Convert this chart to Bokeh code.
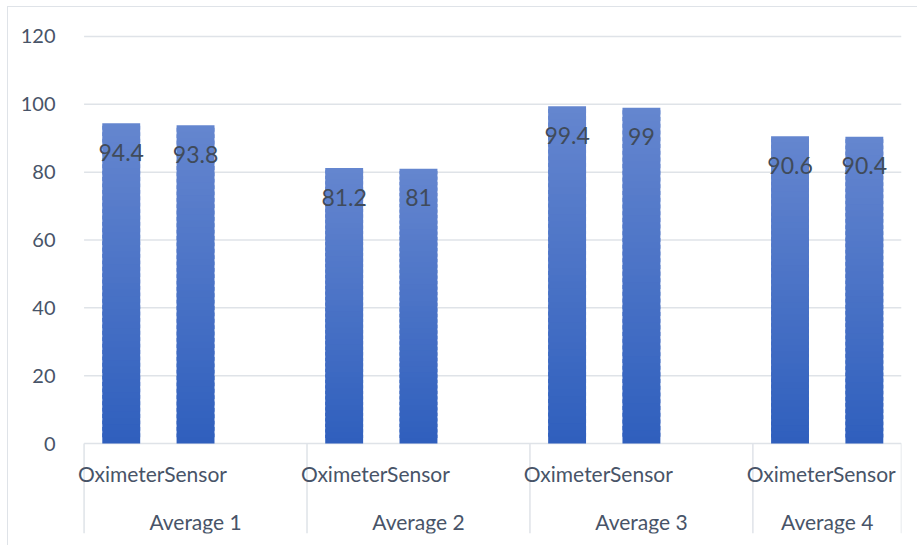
from bokeh.plotting import figure
from bokeh.models import ColumnDataSource, FixedTicker, Range1d
from bokeh.embed import file_html
from bokeh.resources import INLINE
from bokeh.core.properties import value

# ---- data ----
groups = ["Average 1", "Average 2", "Average 3", "Average 4"]
series = ["Oximeter", "Sensor"]
oximeter = [94.4, 81.2, 99.4, 90.6]
sensor = [93.8, 81.0, 99.0, 90.4]
y_ticks = [0, 20, 40, 60, 80, 100, 120]

# ---- layout helpers ----
SLOTS_PER_GROUP = 3          # Oximeter, Sensor, empty slot
n_slots = SLOTS_PER_GROUP * len(groups) - 1
X_MIN = -0.25
Y_MIN, Y_MAX = -26.5, 124.4

TOP_RGB = (101, 134, 207)
BOT_RGB = (47, 95, 189)
N_STRIPS = 50

def mix(t):
    r = [round(BOT_RGB[i] + (TOP_RGB[i] - BOT_RGB[i]) * t) for i in range(3)]
    return "#%02x%02x%02x" % tuple(r)

bar_x, bar_v, bar_lbl = [], [], []
cat_x, cat_t = [], []
grp_x = []
for gi, g in enumerate(groups):
    start = gi * SLOTS_PER_GROUP
    end = min(start + SLOTS_PER_GROUP, n_slots)
    grp_x.append((start + end) / 2)
    for si, (name, vals) in enumerate(zip(series, [oximeter, sensor])):
        xc = start + si + 0.5
        bar_x.append(xc)
        bar_v.append(vals[gi])
        bar_lbl.append("%g" % vals[gi])
        cat_x.append(xc)
        cat_t.append(name)
sep_x = [gi * SLOTS_PER_GROUP for gi in range(len(groups))] + [n_slots]

# gradient strips
sx, sb, st, sc = [], [], [], []
for xc, v in zip(bar_x, bar_v):
    h = v / N_STRIPS
    for k in range(N_STRIPS):
        sx.append(xc)
        sb.append(h * k)
        st.append(h * (k + 1) + (h * 0.6 if k < N_STRIPS - 1 else 0))
        sc.append(mix((k + 0.5) / N_STRIPS))
strips = ColumnDataSource(dict(x=sx, bottom=sb, top=st, color=sc))

p = figure(width=910, height=539, output_backend="svg", toolbar_location=None,
           x_range=Range1d(X_MIN, n_slots), y_range=Range1d(Y_MIN, Y_MAX),
           min_border_left=57, min_border_right=17, min_border_top=14,
           min_border_bottom=13)
p.margin = (6, 0, 0, 7)
p.styles = {"border-left": "1px solid #dfe3e8", "border-top": "1px solid #dfe3e8"}
p.outline_line_color = None
p.background_fill_color = "white"
p.border_fill_color = "white"

p.xaxis.visible = False
p.xgrid.visible = False
p.ygrid.visible = False
p.yaxis.ticker = FixedTicker(ticks=y_ticks)
p.yaxis.axis_line_color = None
p.yaxis.major_tick_line_color = None
p.yaxis.minor_tick_line_color = None
p.yaxis.major_label_standoff = 4
p.yaxis.major_label_text_font = "Lato"
p.yaxis.major_label_text_font_size = "20px"
p.yaxis.major_label_text_color = "#485468"

# horizontal gridlines (incl. category axis line at 0)
p.segment(x0=[0] * len(y_ticks), y0=y_ticks, x1=[n_slots] * len(y_ticks),
          y1=y_ticks, line_color="#dfe3e8", line_width=1.5)

p.vbar(x="x", bottom="bottom", top="top", width=0.51, fill_color="color",
       line_color=None, source=strips)

# data labels
p.text(x=bar_x, y=bar_v, text=bar_lbl, y_offset=29, text_align="center",
       text_baseline="middle", text_font=value("Lato"), text_font_size="23px",
       text_color="#404b5a")

# category axis (two levels) drawn below zero
p.segment(x0=sep_x, y0=[0] * len(sep_x), x1=sep_x, y1=[Y_MIN] * len(sep_x),
          line_color="#dfe3e8", line_width=1.5)
p.text(x=cat_x, y=[-8.8] * len(cat_x), text=cat_t, text_align="center",
       text_baseline="middle", text_font=value("Lato"), text_font_size="21px",
       text_color="#485468")
p.text(x=grp_x, y=[-23] * len(grp_x), text=groups, text_align="center",
       text_baseline="middle", text_font=value("Lato"), text_font_size="21px",
       text_color="#485468")

open("out.html", "w").write(file_html(p, INLINE))
